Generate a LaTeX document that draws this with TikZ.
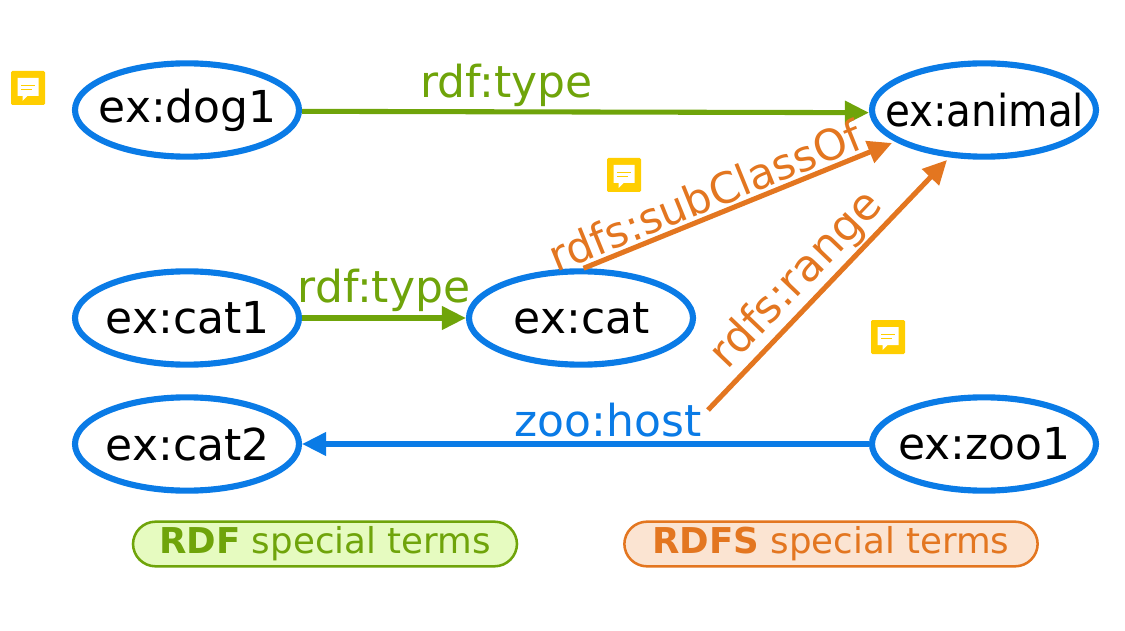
\documentclass[tikz,border=0pt]{standalone}
\usepackage{fontspec}
\setmainfont{DejaVu Sans}
\usetikzlibrary{shapes,arrows.meta,calc}
\definecolor{rdfgreen}{HTML}{6FA40A}
\definecolor{rdfsorange}{HTML}{E37620}
\definecolor{zooblue}{HTML}{0A7BE6}
\definecolor{noteyellow}{HTML}{FFCE00}
\definecolor{rdffill}{HTML}{E6FBC0}
\definecolor{rdfsfill}{HTML}{FBE4D2}
\tikzstyle{res}=[ellipse, draw=zooblue, line width=4.6pt, minimum width=168pt, minimum height=70pt, inner sep=0pt, font=\fontsize{33}{38}\selectfont]
\tikzstyle{prop}=[line width=3.8pt, -{Triangle[length=18pt,width=17pt]}]
\tikzstyle{lab}=[font=\fontsize{33}{39}\selectfont, inner sep=0pt]
\tikzstyle{legend}=[rounded corners=17pt, line width=1.9pt, minimum height=33.5pt, inner sep=0pt, font=\fontsize{26.7}{31}\selectfont]
\tikzstyle{note}=[fill=noteyellow, rounded corners=1pt, minimum size=25.5pt, inner sep=0pt]
\begin{document}
\begin{tikzpicture}[x=0.75pt, y=-0.75pt]
\useasboundingbox (0,0) rectangle (1125,631);
\foreach \n/\x/\y/\t in {dog1/187/110/ex:dog1, animal/984/110/{\scalebox{.92}[1]{ex:animal}}, cat1/187/318/ex:cat1, cat/581/318/ex:cat, cat2/187/444/ex:cat2, zoo1/984/444/ex:zoo1} {
 \node[res] (\n) at (\x,\y) {\makebox[0pt]{\hspace{1pt}\t}};
}
\coordinate (subend) at (892,143);
\coordinate (rangestart) at (708,410);
\coordinate (rangeend) at (947,160);
\draw[prop, draw=rdfgreen] ([yshift=-1pt]dog1.east) --node[lab, text=rdfgreen, pos=0.36, above=2pt] (ldog) {rdf:type} ([yshift=-2pt]animal.west);
\draw[prop, draw=rdfgreen] (cat1) --node[lab, text=rdfgreen, above=2.5pt] (lcat) {rdf:type} (cat);
\draw[prop, draw=zooblue] (zoo1) --node[lab, text=zooblue, pos=0.46, above=3pt] (lzoo) {zoo:host} (cat2);
\draw[prop, draw=rdfsorange] (cat.87) --node[lab, text=rdfsorange, sloped, above=2pt, pos=0.42, font=\fontsize{32}{38}\selectfont] (lsub) {rdfs:subClassOf} (subend);
\draw[prop, draw=rdfsorange] (rangestart) --node[lab, text=rdfsorange, sloped, above=1pt, pos=0.45] (lrange) {rdfs:range} (rangeend);
\node[legend, draw=rdfgreen, fill=rdffill, text=rdfgreen, minimum width=288pt] (lrdf) at (325,544) {\raisebox{-1pt}{\textbf{RDF} special terms}};
\node[legend, draw=rdfsorange, fill=rdfsfill, text=rdfsorange, minimum width=310pt] (lrdfs) at (831,544) {\raisebox{-1pt}{\textbf{RDFS} special terms}};
\foreach \n/\x/\y in {note1/28/88, note2/624/175, note3/888/337} {
 \node[note] (\n) at (\x,\y) {};
 \fill[white] ($(\n)+(-10.5,-10)$) -- ++(21,0) -- ++(0,18) -- ++(-11,0) -- ++(-5,5) -- ++(0,-5) -- ++(-5,0) -- cycle;
 \draw[noteyellow, line width=0.7pt] ($(\n)+(-7,-3)$) -- ++(14,0) ($(\n)+(-7,1)$) -- ++(11,0);
}
\end{tikzpicture}
\end{document}
